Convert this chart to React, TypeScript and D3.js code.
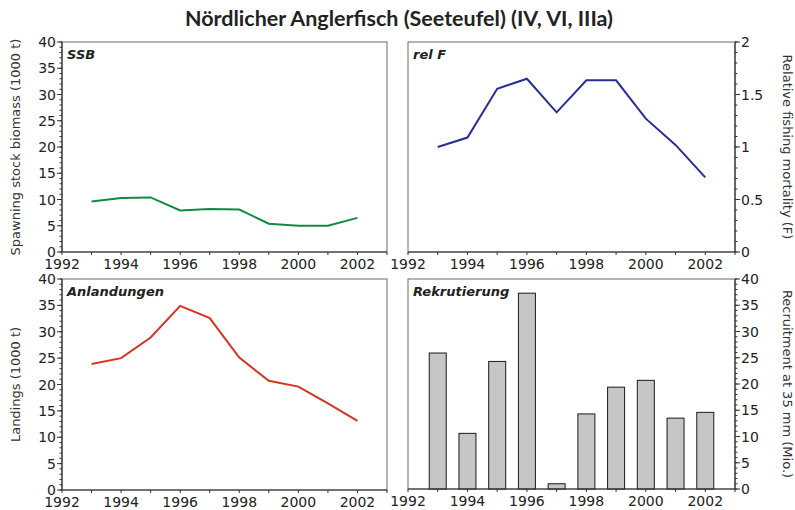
import React from 'react';
import * as d3 from 'd3';

const years = [1993, 1994, 1995, 1996, 1997, 1998, 1999, 2000, 2001, 2002];
const ssb = [9.6, 10.3, 10.4, 7.9, 8.2, 8.1, 5.4, 5.0, 5.0, 6.5];
const relF = [1.0, 1.09, 1.555, 1.65, 1.33, 1.635, 1.635, 1.27, 1.02, 0.71];
const landings = [23.9, 25.0, 28.9, 34.9, 32.6, 25.1, 20.7, 19.6, 16.4, 13.1];
const recruitment = [25.9, 10.6, 24.3, 37.3, 1.0, 14.3, 19.4, 20.7, 13.5, 14.6];
const xTickLabels = [1992, 1994, 1996, 1998, 2000, 2002];

const FONT = "'DejaVu Sans', Verdana, sans-serif";
const W = 795;
const H = 510;

type PanelProps = {
  x0: number; x1: number; y0: number; y1: number;
  yMax: number; yTicks: number[]; minorStep: number;
  side: 'left' | 'right';
  label: string; axisTitle: string;
  values: number[]; color?: string; bars?: boolean;
};

const Panel = ({ x0, x1, y0, y1, yMax, yTicks, minorStep, side, label, axisTitle, values, color, bars }: PanelProps) => {
  const x = d3.scaleLinear().domain([1992, 2003]).range([x0, x1]);
  const y = d3.scaleLinear().domain([0, yMax]).range([y1, y0]);
  const line = d3.line<number>().x((_, i) => x(years[i])).y(d => y(d));
  const minor = d3.range(0, yMax + minorStep / 2, minorStep);
  const axX = side === 'left' ? x0 : x1;
  const dir = side === 'left' ? -1 : 1;
  const allYears = d3.range(1992, 2004);
  const bw = 17;
  const titleX = side === 'left' ? 20 : 783;
  const titleY = (y0 + y1) / 2;

  return (
    <g>
      <rect x={x0} y={y0} width={x1 - x0} height={y1 - y0} fill="white" stroke="#6a6a6a" strokeWidth={1} />
      {bars && values.map((v, i) => (
        <rect key={i} x={x(years[i]) - bw / 2} y={y(v)} width={bw} height={y(0) - y(v)}
          fill="#c6c6c6" stroke="#1a1a1a" strokeWidth={1} />
      ))}
      {!bars && <path d={line(values) || ''} fill="none" stroke={color} strokeWidth={2} />}
      {/* x axis */}
      <line x1={x0} x2={x1} y1={y1} y2={y1} stroke="#333" strokeWidth={1.2} />
      {allYears.map(yr => (
        <line key={yr} x1={x(yr)} x2={x(yr)} y1={y1} y2={y1 + 3} stroke="#333" />
      ))}
      {xTickLabels.map(yr => (
        <text key={yr} x={x(yr)} y={y1 + 17} textAnchor="middle" fontFamily={FONT} fontSize={14} fill="#222">{yr}</text>
      ))}
      {/* y axis */}
      <line x1={axX} x2={axX} y1={y0} y2={y1} stroke="#333" strokeWidth={1.2} />
      {minor.map((v, i) => (
        <line key={i} x1={axX} x2={axX + dir * 2.5} y1={y(v)} y2={y(v)} stroke="#333" />
      ))}
      {yTicks.map(v => (
        <g key={v}>
          <line x1={axX} x2={axX + dir * 5} y1={y(v)} y2={y(v)} stroke="#333" />
          <text x={axX + dir * 6} y={y(v) + 5} textAnchor={side === 'left' ? 'end' : 'start'}
            fontFamily={FONT} fontSize={14} fill="#222">{v}</text>
        </g>
      ))}
      <text x={x0 + 5} y={y0 + 17} fontFamily={FONT} fontSize={13} fontWeight="bold" fontStyle="italic" fill="#222">{label}</text>
      <text transform={`translate(${titleX},${titleY}) rotate(${side === 'left' ? -90 : 90})`}
        textAnchor="middle" fontFamily={FONT} fontSize={13} fill="#333">{axisTitle}</text>
    </g>
  );
};

const App = () => {
  const t40 = d3.range(0, 41, 5);
  const t2 = [0, 0.5, 1, 1.5, 2];
  return (
    <svg width={W} height={H} style={{ position: 'absolute', left: 0, top: 0, background: 'white' }}>
      <text x={399} y={26} textAnchor="middle" fontFamily="Lato, 'Open Sans', sans-serif" fontSize={21.5} fontWeight="bold" fill="#222">
        Nördlicher Anglerfisch (Seeteufel) (IV, VI, IIIa)
      </text>
      <Panel x0={62} x1={387} y0={42} y1={252} yMax={40} yTicks={t40} minorStep={1} side="left"
        label="SSB" axisTitle="Spawning stock biomass (1000 t)" values={ssb} color="#128a45" />
      <Panel x0={408} x1={735} y0={42} y1={252} yMax={2} yTicks={t2} minorStep={0.1} side="right"
        label="rel F" axisTitle="Relative fishing mortality (F)" values={relF} color="#2c2c98" />
      <Panel x0={62} x1={387} y0={279} y1={490} yMax={40} yTicks={t40} minorStep={1} side="left"
        label="Anlandungen" axisTitle="Landings (1000 t)" values={landings} color="#d8331f" />
      <Panel x0={408} x1={735} y0={279} y1={489} yMax={40} yTicks={t40} minorStep={1} side="right"
        label="Rekrutierung" axisTitle="Recruitment at 35 mm (Mio.)" values={recruitment} bars />
    </svg>
  );
};

export default App;
